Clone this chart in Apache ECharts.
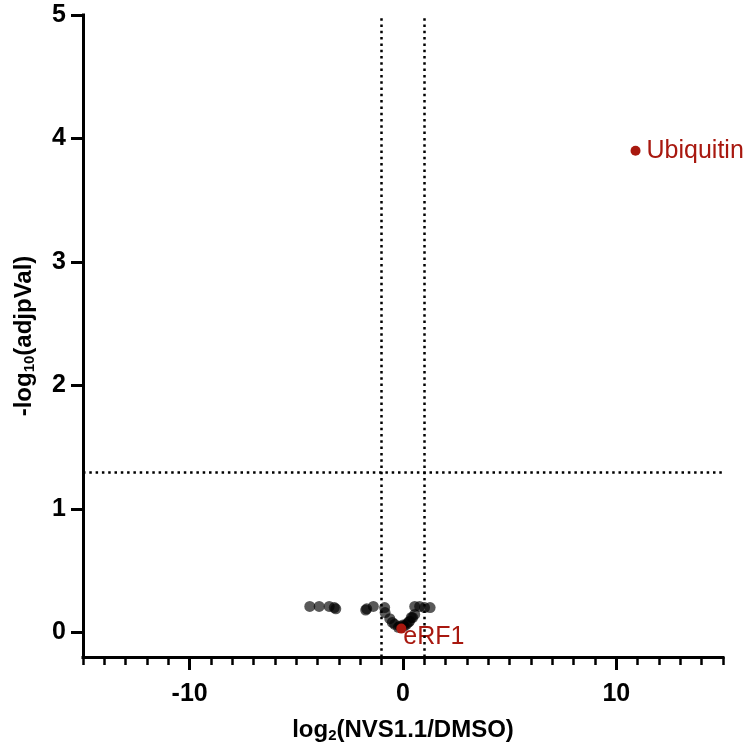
<!DOCTYPE html>
<html>
<head>
<meta charset="utf-8">
<script src="https://cdn.jsdelivr.net/npm/echarts@6/dist/echarts.min.js"></script>
<style>
  html, body { margin: 0; padding: 0; background: #fff; }
  #chart-container { width: 746px; height: 746px; }
</style>
</head>
<body>
<div id="chart-container"></div>
<script>
// proteins that did not pass the cutoffs
let grayX = [-4.37, -3.93, -3.46, -3.22, -3.15, -1.75, -1.70, -1.39,
             -0.86, -0.84, -0.62, -0.50, -0.39, -0.22, -0.15, 0.0, 0.16,
             0.25, 0.31, 0.39, 0.45, 0.55, 0.55, 0.78, 1.01, 1.27, 0.05]
let grayY = [0.21, 0.21, 0.21, 0.20, 0.19, 0.18, 0.19, 0.21,
             0.20, 0.16, 0.11, 0.08, 0.065, 0.04, 0.05, 0.06, 0.065,
             0.08, 0.09, 0.12, 0.12, 0.145, 0.21, 0.21, 0.20, 0.20, 0.05]
// highlighted proteins
let hitNames = ['Ubiquitin', 'eRF1']
let hitX = [10.9, -0.08]
let hitY = [3.9, 0.03]
// cutoff lines
let foldCut = [-1, 1]
let pCut = 1.3
// tick labels
let xLabels = [-10, 0, 10]
let yLabels = [0, 1, 2, 3, 4, 5]

let red = '#a8180f'
let font = "'Liberation Sans', Arial, sans-serif"

let dom = document.getElementById('chart-container')
let myChart = echarts.init(dom, null, { renderer: 'canvas' })

let grayData = grayX.map((x, i) => [x, grayY[i]])
let hitData = hitX.map((x, i) => {
    let item = { name: hitNames[i], value: [x, hitY[i]] }
    if (hitNames[i] == 'eRF1') {
        item.label = { offset: [-9, 9] }
    }
    return item
})

let option = {
    animation: false,
    grid: { left: 83, right: 23, top: 15, bottom: 89, containLabel: false, outerBoundsMode: 'none' },
    xAxis: [
        {
            type: 'value', min: -15, max: 15, position: 'bottom',
            name: 'log{sub|2}(NVS1.1/DMSO)', nameLocation: 'middle', nameGap: 60,
            nameTextStyle: {
                fontFamily: font, fontWeight: 'bold', fontSize: 24, color: '#000',
                rich: { sub: { fontFamily: font, fontWeight: 'bold', fontSize: 15, padding: [11, 0, 0, 0] } }
            },
            axisLine: { show: true, onZero: false, lineStyle: { color: '#000', width: 3, cap: 'square' } },
            axisTick: { show: true, customValues: xLabels, length: 13, lineStyle: { width: 3, color: '#000' } },
            axisLabel: { customValues: xLabels, margin: 25, fontFamily: font, fontWeight: 'bold', fontSize: 25, color: '#000' },
            splitLine: { show: false }
        },
        {
            type: 'value', min: -15, max: 15, interval: 1, position: 'bottom',
            axisLine: { show: false, onZero: false },
            axisTick: { show: true, length: 8, lineStyle: { width: 2.5, color: '#000' } },
            axisLabel: { show: false },
            splitLine: { show: false }
        }
    ],
    yAxis: {
        type: 'value', min: -0.2, max: 5,
        name: '-log{sub|10}(adjpVal)', nameLocation: 'middle', nameGap: 46,
        nameTextStyle: {
            fontFamily: font, fontWeight: 'bold', fontSize: 24, color: '#000',
            rich: { sub: { fontFamily: font, fontWeight: 'bold', fontSize: 15, padding: [11, 0, 0, 0] } }
        },
        axisLine: { show: true, onZero: false, lineStyle: { color: '#000', width: 3, cap: 'square' } },
        axisTick: { show: true, customValues: yLabels, length: 12, lineStyle: { width: 3, color: '#000' } },
        axisLabel: { customValues: yLabels, margin: 17, fontFamily: font, fontWeight: 'bold', fontSize: 25, color: '#000' },
        splitLine: { show: false }
    },
    series: [
        {
            type: 'scatter', xAxisIndex: 0,
            data: grayData,
            symbolSize: 11,
            itemStyle: { color: '#000', opacity: 0.65 },
            markLine: {
                silent: true, symbol: 'none', animation: false,
                label: { show: false },
                lineStyle: { color: '#000', width: 2.5, type: [2.5, 3.8], opacity: 1 },
                data: [
                    { xAxis: foldCut[0] },
                    { xAxis: foldCut[1] },
                    { yAxis: pCut }
                ]
            }
        },
        {
            type: 'scatter', xAxisIndex: 0,
            data: hitData,
            symbolSize: 10,
            itemStyle: { color: red, opacity: 1 },
            label: {
                show: true, position: 'right', distance: 6,
                formatter: '{b}', color: red, fontSize: 25,
                fontFamily: font
            }
        }
    ]
}
myChart.setOption(option)
window.addEventListener('resize', myChart.resize)
</script>
</body>
</html>
